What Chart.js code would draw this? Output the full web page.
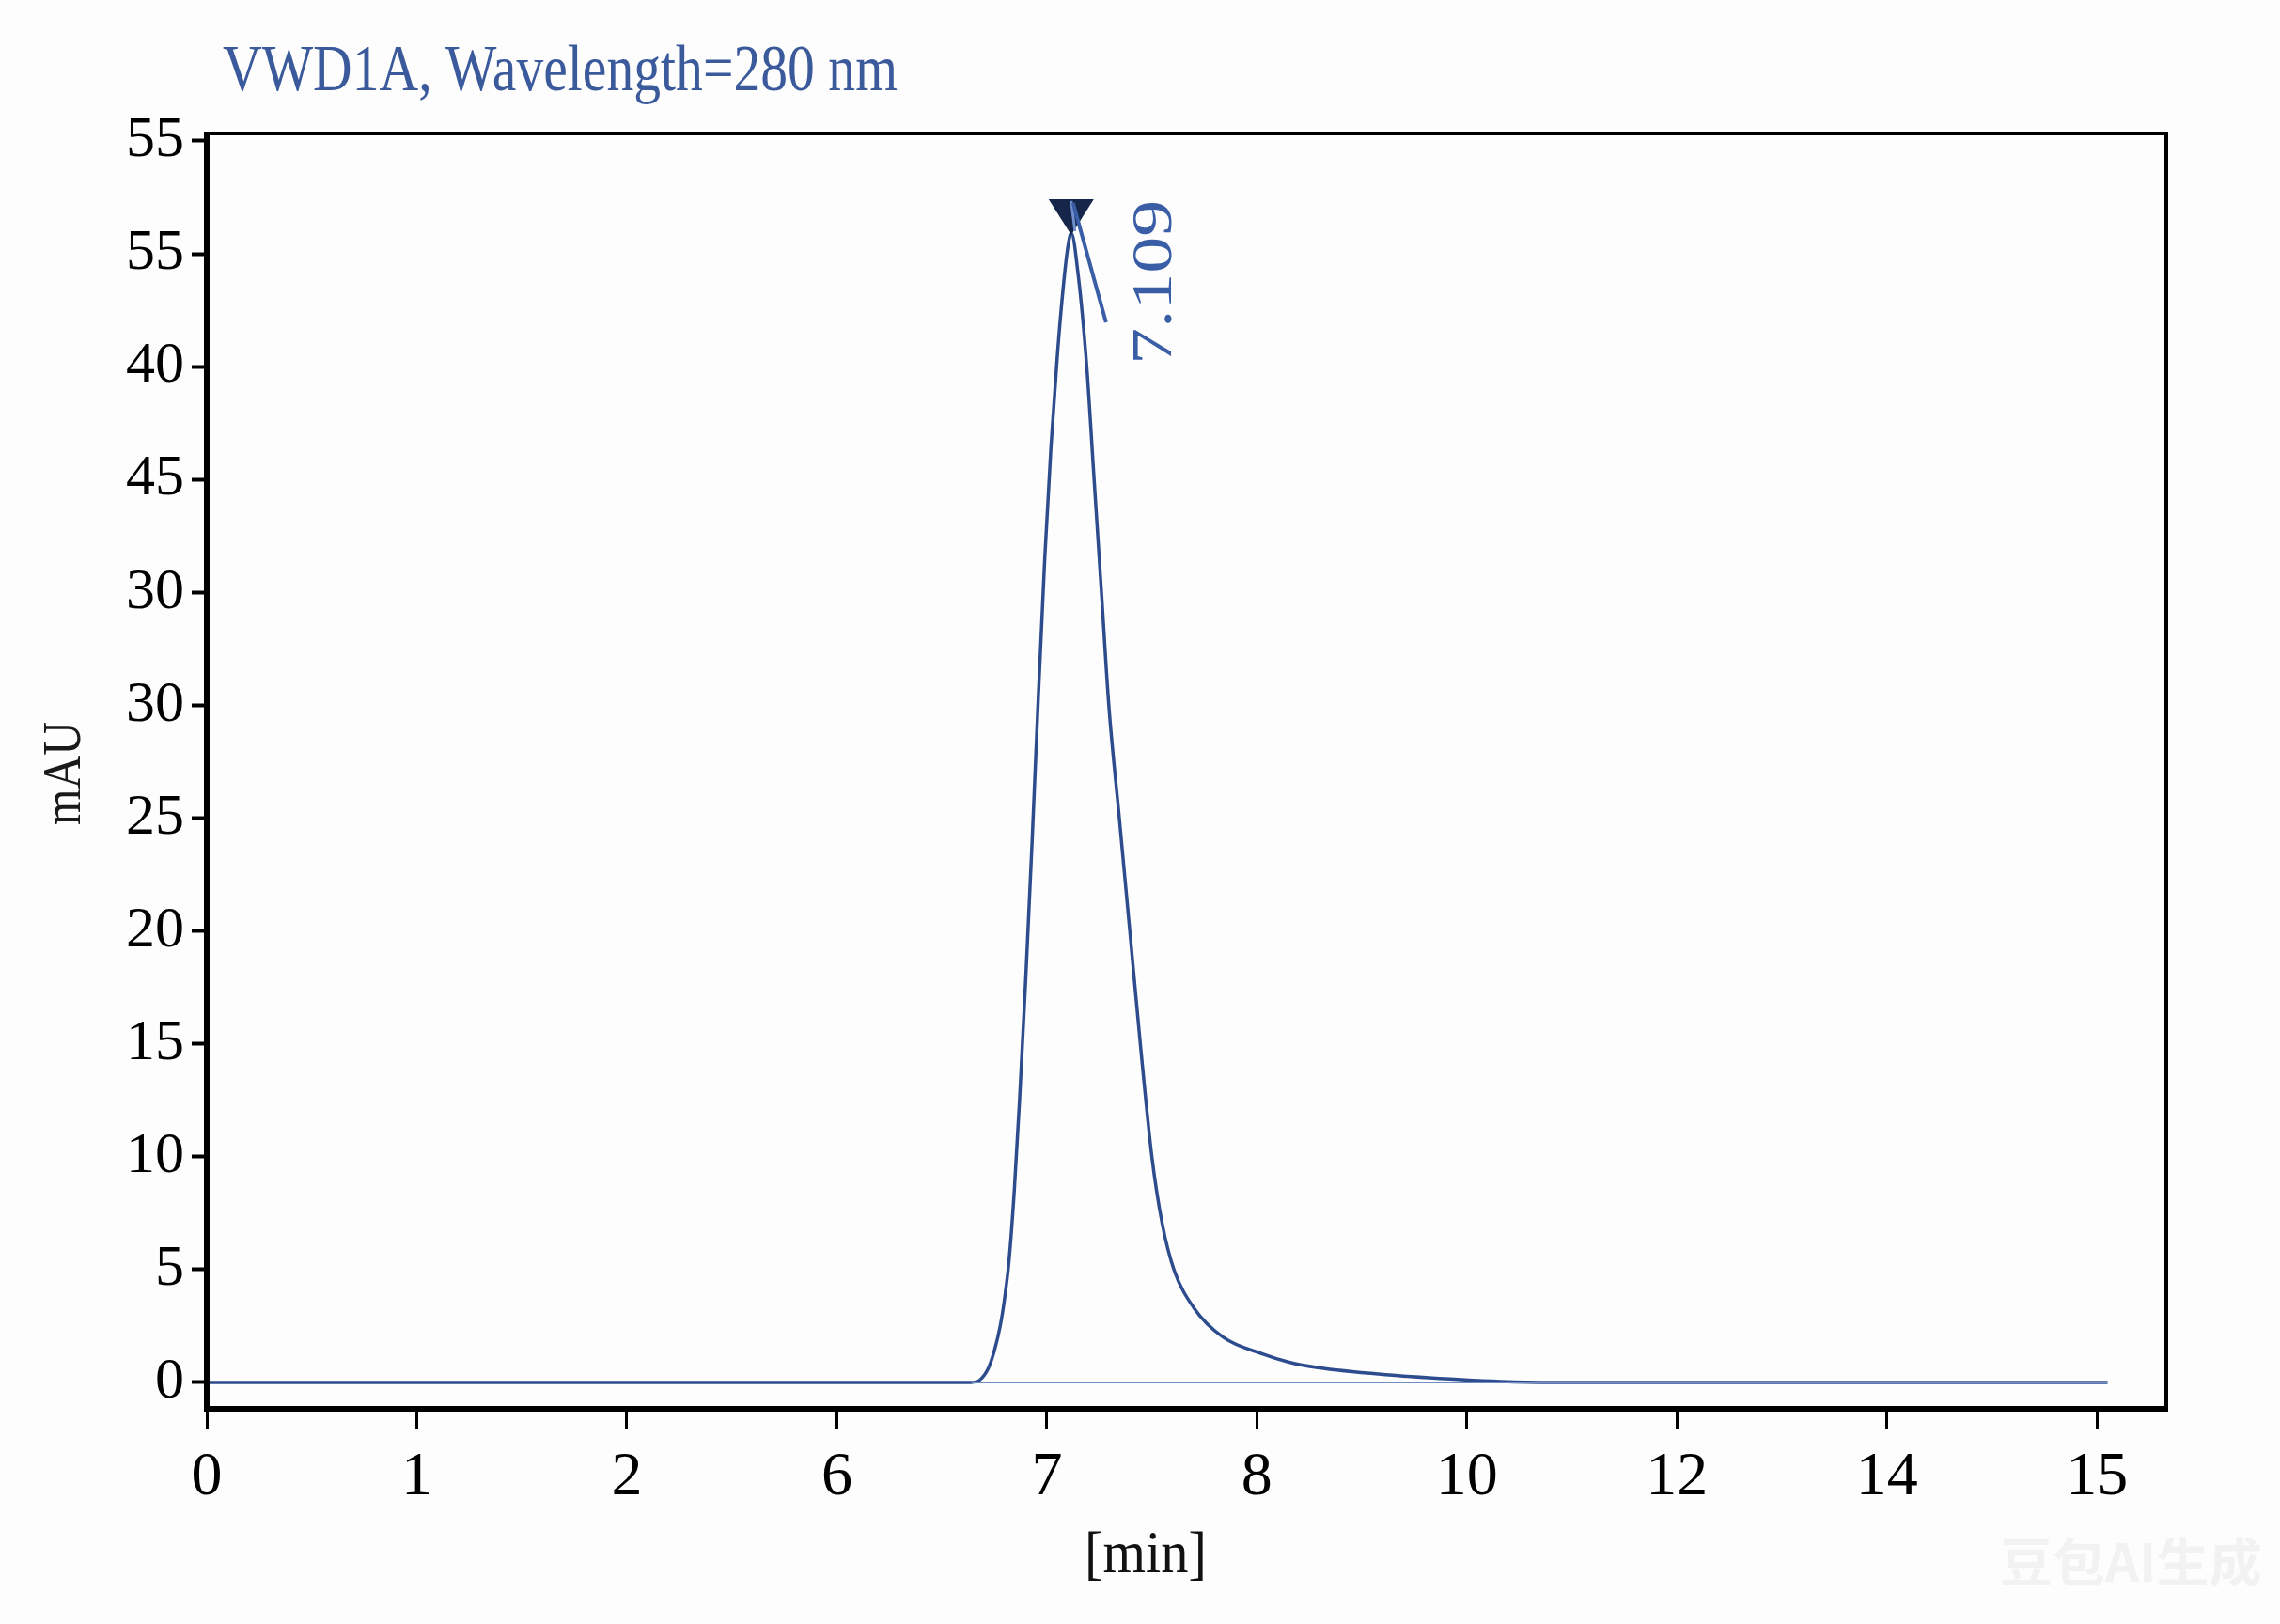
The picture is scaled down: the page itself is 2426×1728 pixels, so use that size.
<!DOCTYPE html>
<html>
<head>
<meta charset="utf-8">
<script src="https://cdn.jsdelivr.net/npm/chart.js@4.4.1/dist/chart.umd.min.js"></script>
<style>
  html, body { margin: 0; padding: 0; background: #fdfdfd; }
  #wrap { width: 2426px; height: 1728px; }
</style>
</head>
<body>
<div id="wrap"><canvas id="chart" width="2426" height="1728"></canvas></div>
<script>
// --- Data ---
const xTickLabels = [0, 1, 2, 6, 7, 8, 10, 12, 14, 15];         // minutes, evenly spaced on the axis
const yTickLabels = [0, 5, 10, 15, 20, 25, 30, 30, 45, 40, 55, 55]; // as printed, bottom to top
const yTickStep = 5;

const timeMin = [0, 6.64, 6.68, 6.72, 6.75, 6.78, 6.80, 6.82, 6.845, 6.87, 6.90, 6.93, 6.96,
  6.99, 7.02, 7.05, 7.08, 7.10, 7.116, 7.15, 7.19, 7.225, 7.26, 7.295, 7.345, 7.395, 7.445,
  7.50, 7.55, 7.605, 7.70, 7.84, 8.06, 8.3, 8.58, 9.26, 9.95, 10.32, 10.8, 15.05];
const signal = [0, 0, 0.1, 0.6, 1.4, 2.6, 3.8, 5.4, 8.5, 12.5, 18, 24, 30.5,
  36.5, 41.5, 45.5, 48.7, 50.3, 50.92, 49, 45, 40, 35, 30, 25, 20, 15,
  10, 7, 5, 3.3, 2.0, 1.25, 0.9, 0.65, 0.33, 0.12, 0.04, 0, 0];

const baseTime = [6.64, 15.05];
const baseSignal = [0, 0];

const peakTime = 7.116;
const peakSignal = 50.92;
const peakLabel = "7.109";

const title = "VWD1A, Wavelength=280 nm";
const yTitle = "mAU";
const xTitle = "[min]";

// --- helpers ---
// the time axis is printed with uneven labels on even spacing, so map minutes onto tick slots
function slot(t) {
  const L = xTickLabels;
  if (t <= L[0]) return 0;
  for (let i = 1; i < L.length; i++) {
    if (t <= L[i]) return (i - 1) + (t - L[i - 1]) / (L[i] - L[i - 1]);
  }
  const n = L.length - 1;
  return n + (t - L[n]) / (L[n] - L[n - 1]);
}

const pts = (ts, vs) => ts.map((t, i) => ({ x: slot(t), y: vs[i] }));

const LINE = "#2d4c8e";
const SERIF = "'Liberation Serif', 'Times New Roman', serif";

// draw text squeezed/stretched to a given width
function fitText(ctx, text, x, y, w, font, color, align) {
  ctx.save();
  ctx.font = font;
  ctx.fillStyle = color;
  ctx.textBaseline = "middle";
  const m = ctx.measureText(text).width;
  const s = w / m;
  let x0 = x;
  if (align === "center") x0 = x - w / 2;
  ctx.translate(x0, y);
  ctx.scale(s, 1);
  ctx.textAlign = "left";
  ctx.fillText(text, 0, 0);
  ctx.restore();
}

const decor = {
  id: "decor",
  beforeDraw(chart) {
    const { ctx } = chart;
    ctx.save();
    ctx.fillStyle = "#fdfdfd";
    ctx.fillRect(0, 0, chart.width, chart.height);
    ctx.restore();
  },
  afterDraw(chart) {
    const { ctx, chartArea: a, scales } = chart;

    // frame
    ctx.save();
    ctx.strokeStyle = "#000";
    ctx.lineWidth = 4;
    ctx.strokeRect(a.left, a.top, a.right - a.left, a.bottom - a.top);
    ctx.lineWidth = 6;
    ctx.beginPath();
    ctx.moveTo(a.left, a.top - 2);
    ctx.lineTo(a.left, a.bottom);
    ctx.lineTo(a.right + 2, a.bottom);
    ctx.stroke();
    ctx.restore();

    // peak marker + leader line
    const px = scales.x.getPixelForValue(slot(peakTime));
    const py = scales.y.getPixelForValue(peakSignal);
    ctx.save();
    ctx.fillStyle = "#15264a";
    ctx.beginPath();
    ctx.moveTo(px - 24, py - 36);
    ctx.lineTo(px + 24, py - 36);
    ctx.lineTo(px, py + 2);
    ctx.closePath();
    ctx.fill();
    ctx.strokeStyle = "#6f8fcf";
    ctx.lineWidth = 3;
    ctx.beginPath();
    ctx.moveTo(px, py - 34);
    ctx.lineTo(px + 4, py - 2);
    ctx.stroke();
    ctx.strokeStyle = "#3a5ea6";
    ctx.lineWidth = 4;
    ctx.beginPath();
    ctx.moveTo(px + 2, py - 32);
    ctx.lineTo(px + 37, py + 95);
    ctx.stroke();
    ctx.restore();

    ctx.save();
    ctx.translate(px + 90, py + 140);
    ctx.rotate(-Math.PI / 2);
    fitText(ctx, peakLabel, 0, 0, 175, "62px " + SERIF, "#3a5ea6", "left");
    ctx.restore();

    // title
    fitText(ctx, title, 237, 78, 718, "70px " + SERIF, "#3b5a9c", "left");

    // axis titles
    ctx.save();
    ctx.translate(70, 823);
    ctx.rotate(-Math.PI / 2);
    fitText(ctx, yTitle, 0, 0, 110, "56px " + SERIF, "#1a1a1a", "center");
    ctx.restore();
    fitText(ctx, xTitle, 1219, 1656, 130, "64px " + SERIF, "#111", "center");

    // faint watermark
    ctx.save();
    ctx.font = "bold 56px 'Noto Sans CJK SC'";
    ctx.fillStyle = "rgba(0,0,0,0.045)";
    ctx.textBaseline = "middle";
    ctx.fillText("豆包AI生成", 2128, 1662);
    ctx.restore();
  }
};

const chart = new Chart(document.getElementById("chart"), {
  type: "line",
  data: {
    datasets: [
      {
        label: "baseline",
        data: pts(baseTime, baseSignal),
        borderColor: "#6d8cc2",
        borderWidth: 2,
        pointRadius: 0,
        fill: false
      },
      {
        label: "signal",
        data: pts(timeMin, signal),
        borderColor: LINE,
        borderWidth: 3.5,
        pointRadius: 0,
        cubicInterpolationMode: "monotone",
        fill: false
      }
    ]
  },
  options: {
    responsive: false,
    animation: false,
    devicePixelRatio: 1,
    layout: { padding: { left: 0, top: 142, right: 121, bottom: 0 } },
    plugins: { legend: { display: false }, tooltip: { enabled: false } },
    scales: {
      x: {
        type: "linear",
        min: 0,
        max: 9.33,
        afterFit: (s) => { s.height = 229; },
        afterBuildTicks: (s) => { s.ticks = xTickLabels.map((_, i) => ({ value: i })); },
        grid: { drawOnChartArea: false, drawTicks: true, tickLength: 22, tickWidth: 3, tickColor: "#000" },
        border: { display: false },
        ticks: {
          padding: 12,
          color: "#000",
          font: { family: SERIF, size: 66 },
          maxRotation: 0,
          autoSkip: false,
          callback: (v) => String(xTickLabels[Math.round(v)])
        }
      },
      y: {
        type: "linear",
        min: -1.17,
        max: 55.33,
        afterFit: (s) => { s.width = 220; },
        afterBuildTicks: (s) => { s.ticks = yTickLabels.map((_, i) => ({ value: i * yTickStep })); },
        grid: { drawOnChartArea: false, drawTicks: true, tickLength: 16, tickWidth: 4, tickColor: "#000" },
        border: { display: false },
        ticks: {
          padding: 8,
          color: "#000",
          font: { family: SERIF, size: 62 },
          autoSkip: false,
          callback: (v) => String(yTickLabels[Math.round(v / yTickStep)])
        }
      }
    }
  },
  plugins: [decor]
});
</script>
</body>
</html>
